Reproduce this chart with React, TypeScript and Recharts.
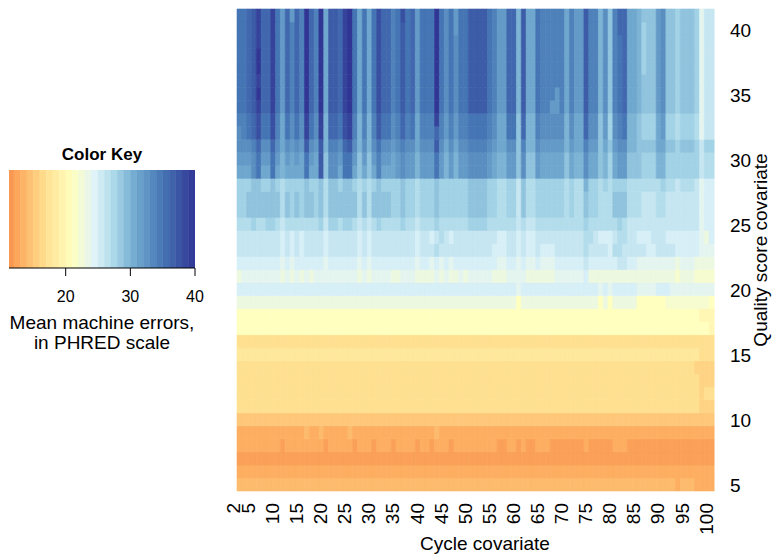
import React from 'react';
import { BarChart, Bar, XAxis, YAxis, Cell, ComposedChart, ReferenceArea, Line } from 'recharts';

const FONT = '"Liberation Sans", Arial, Helvetica, sans-serif';

// categories
const cycles: number[] = Array.from({ length: 99 }, (_, i) => i + 2);
const qualities: number[] = [41, 40, 39, 38, 37, 36, 35, 34, 33, 32, 31, 30, 29, 28, 27, 26, 25, 24, 23, 22, 21, 20, 19, 18, 17, 16, 15, 14, 13, 12, 11, 10, 9, 8, 7, 6, 5];
const cycleTickLabels: number[] = [2, 5, 10, 15, 20, 25, 30, 35, 40, 45, 50, 55, 60, 65, 70, 75, 80, 85, 90, 95, 100];
const qualityTickLabels: number[] = [5, 10, 15, 20, 25, 30, 35, 40];
const keyTicks: number[] = [20, 30, 40];
const keyRange: number[] = [11.23, 40];

// mean machine error (PHRED) per cell, one string per quality row (41 at top), one char per cycle 2..100
// char -> value: parseInt(char, 36) + 11   ('0' = 11 ... '9' = 20, 'a' = 21 ... 't' = 40)
const heatRows: string[] = [
  'oopqsppsol plpntpntkq qpstokokor ppnoroploo otomolooqq qqonllppjq kkonnnnnkn llqnnjminp pkkjiiilmi ihiiihdff',
  'oopqsppsol pnpntpntkq qpstokokor ppnoqoploo otomolooqq qqonllppjq kkonnnnnkn llqnnjminp pkkjhiilmi ihiiihdff',
  'oopqsppsol pnpntpntkq qpstokokor ppnoqoploo otomomooqq qqonllppjq kkonnnnnkn llqnnjmino pkkjhiilmi ihiiihdff',
  'oopqtppsol pnpntpntkq qpstokokor ppnoqoploo otomomooqq qqonllppjq kkonnnnnkn llqnnjmino pkkjhiilmi ihiiihdff',
  'oopqtppsol pnpntpntkq qpstokokor ppnoqoploo otomomooqq qqonllppjq kkonnnnnkn llqnnjmino pkkjhiilmi ihiiihdff',
  'oopqsppsol pnpntpntkq qpstokokor ppnoqoploo otomomooqq qqonllppjq kkonnnnnkn llqnnjmino pkkjiiilmi ihiiihdff',
  'oopqtppsol pnpntpntkq qpstokokor ppnoqoploo otomomooqq qqonllppjq kkonnnlnkn llqnnjmino pkkjiiilmi ihiiihdff',
  'oopqsppsol pnpntpntkq qpstokokor ppnoqoploo otomomooqq qqonllppjq kkonnllnkn llqnnjmino pkkjiiilmi ihiiihdff',
  'nnoproornk omomsomsjp porsnjnjnq oomnpnoknn nsnlnlnnoo oonmkkooip jjnmmmmmjm kkpmmilhmn ojjihhhklh hghhhgdff',
  'mnoproornk omomsomsjp porsnjnjnq oomnpnoknn npnlnlnnoo oonmkkooip jjnmmmmmjm kkpmmilhmn ojjihhhklh hghhhgdff',
  'mmmnpmmpmk mlmlqmlqjn nmpqmjmjmo mmlmnmmkmm mqmkmkmmnn nnmlkkmmin jjmllllljl kknllikilm mjjiiiikki ihiiihfhh',
  'lllmollolj lklkolkqim mloolililn llklmlljll loljljllmm mmlkjjllim iilkkkkkik jjmkkijhkl liiihhhjjh hhhhhhfgg',
  'kkkmokkokj kkkkokkqim mkookikikn kkklmlljll loljljllmm mmlkjjllim iilkkkkkik jjmkkijhkl liiihhhjjh hhhhhhfgg',
  'hhhiihhihg hhhhihhigi ihiihghghi hhhhihhghh hihhhhhhii iihhgghhfi gghhhhhhgh ggjhhghghh hggggggghg gfgggfdee',
  'hhiiiiiiig ihihiihigi iiiiigigii iihhihhghh hihhhhhhii iihhgghhfi gghhhhhhgh ggihhgggii igggfffggf ffffffdee',
  'hhiiiiiiig ihihiihigi iiiiigigii iihhihhghh hihhhhhhii iihhgghhfi gghhhhhhgh ggihhgggii igggfffggf ffffffdee',
  'ggghgghhgf ggggggghfh hghhgfgfgh gggghggfgg ghgggggghh hhggggggfg ffgggggggg gghggggggh gfffffffff ffffffdee',
  'fffffffffe fefeffffef fffffefeff fffffffeff efgfefffff ffffeeffef eeffffffff ffggfeeefg gffeeefffe eeeeeedce',
  'fffffffffe fefeffffef fffffefeff fffffffeff fgffffffff fffeeeffef eefeeeffff ffgffffegg fffffeefff feeeeeddd',
  'eeeeeeeeed edeeeeeede eeeeededee eeeeeeedee dededeeeee eeeeddeede ddedddeeee eefeeeeeef feeddddddd dcdddcccc',
  'cddddddddc dcdcdcdddd dddddcdcdd ddccdddccc cdcdccdcdd dddcccdddd ccccccdddd ddeccccccc cccccccccc cbcccbbbb',
  'eeeeeeeeee eeeeeeeeee eeeeeeeeee eeeeeeeeee eeeeeeeeee eeeeeeeede eeeeeeeeee eeeeededee eeeddddeee ddddddddd',
  'cccccccccc cccccccccc cccccccccc cccccccccc cccccccccc ccccccccac cccccccccc cccccacacc cccaaaaaab bbbbbbbba',
  'aaaaaaaaaa aaaaaaaaaa aaaaaaaaaa aaaaaaaaaa aaaaaaaaaa aaaaaaaaaa aaaaaaaaaa aaaaaaaaaa aaaaaaaaaa aaaaaa999',
  'aaaaaaaaaa aaaaaaaaaa aaaaaaaaaa aaaaaaaaaa aaaaaaaaaa aaaaaaaaaa aaaaaaaaaa aaaaaaaaaa aaaaaaaaaa aaaaaaaa9',
  '6666666666 6666666666 6666666666 6666666666 6666666666 6666666666 6666666666 6666666666 6666666666 666666666',
  '7777777777 7777777777 7777777777 7777777777 7777777777 7777777777 7777777777 7777777777 7777777777 777777666',
  '6666666666 6666666666 6666666666 6666666666 6666666666 6666666666 6666666666 6666666666 6666666666 666665555',
  '6666666666 6666666666 6666666666 6666666666 6666666666 6666666666 6666666666 6666666666 6666666666 666666555',
  '6666666666 6666666666 6666666666 6666666666 6666666666 6666666666 6666666666 6666666666 6666666666 666666566',
  '6666666666 6666666666 6666666666 6666666666 6666666666 6666666666 6666666666 6666666666 6666666666 666666555',
  '4444444444 4444444444 4444444444 4444444444 4444444444 4444444444 4444444444 4444444444 4444444444 444444444',
  '2222222222 2222322322 2223222222 2222222222 2322222222 2222222222 2222222222 2222222222 2222222222 222222222',
  '2222222221 2222222212 2222122212 2212222122 1222122222 2222112212 1122211111 1121111122 2111111111 111111111',
  '1111111111 1111111111 1111111111 1111111111 1111111111 1111111111 1111111111 1111111111 1111111111 111111111',
  '2222222222 2222222222 2222222222 2222222222 2222222222 2222222222 2222222222 2222222222 2222222222 222222222',
  '3333333333 3333333333 3333333333 3333333333 3333333333 3333333333 3333333333 3333333333 3333333333 323332222',
];

// palette stops (value, colour)
const colorStops: [number, string][] = [
  [11, '#F7914E'],
  [13, '#FDAE61'],
  [17, '#FEE090'],
  [21, '#FFFFBF'],
  [24.5, '#E0F3F8'],
  [27.5, '#ABD9E9'],
  [30.5, '#74ADD1'],
  [35, '#4575B4'],
  [40, '#313695'],
];

function hexToRgb(h: string): number[] {
  return [parseInt(h.slice(1, 3), 16), parseInt(h.slice(3, 5), 16), parseInt(h.slice(5, 7), 16)];
}

function colorFor(v: number): string {
  if (v <= colorStops[0][0]) return colorStops[0][1];
  for (let i = 1; i < colorStops.length; i++) {
    const [v1, c1] = colorStops[i];
    const [v0, c0] = colorStops[i - 1];
    if (v <= v1) {
      const t = (v - v0) / (v1 - v0);
      const a = hexToRgb(c0);
      const b = hexToRgb(c1);
      const m = a.map((x, j) => Math.round(x + (b[j] - x) * t));
      return `rgb(${m[0]},${m[1]},${m[2]})`;
    }
  }
  return colorStops[colorStops.length - 1][1];
}

const grid: number[][] = heatRows.map((r) =>
  r.replace(/ /g, '').split('').map((c) => parseInt(c, 36) + 11)
);

const heatData = cycles.map((c) => {
  const d: Record<string, number> = { cycle: c };
  qualities.forEach((q) => {
    d['q' + q] = 1;
  });
  return d;
});

const qualitiesBottomUp = [...qualities].reverse();
const qualityTicks = qualityTickLabels.map((q) => q - 5 + 0.5);

// colour key bands
const keyBands = [] as { lo: number; hi: number; color: string }[];
for (let k = 12; k <= 40; k++) {
  keyBands.push({ lo: Math.max(k - 1, keyRange[0]), hi: k, color: colorFor(k - 0.5) });
}
const keyData = [{ x: keyRange[0], y: 0 }, { x: keyRange[1], y: 0 }];

const W = 773;
const H = 554;
const PLOT_LEFT = 237;
const PLOT_RIGHT = 714;
const PLOT_TOP = 9;
const PLOT_BOTTOM = 491;

const CycleTick = (props: any) => {
  const { x, payload } = props;
  const v = Number(payload.value);
  if (!cycleTickLabels.includes(v)) return <g />;
  const bx = x + 1;
  const by = PLOT_BOTTOM + 12;
  return (
    <text x={bx} y={by} transform={`rotate(-90 ${bx} ${by})`} textAnchor="end" fontSize={19} fontFamily={FONT} fill="#000">
      {v}
    </text>
  );
};

const QualityTick = (props: any) => {
  const { y, payload } = props;
  const label = Math.round(Number(payload.value) + 4.5);
  return (
    <text x={PLOT_RIGHT + 16} y={y + 8} textAnchor="start" fontSize={19} fontFamily={FONT} fill="#000">
      {label}
    </text>
  );
};

export default function App() {
  return (
    <div style={{ position: 'absolute', left: 0, top: 0, width: W, height: H, overflow: 'hidden', fontFamily: FONT, background: '#fff' }}>
      <div style={{ position: 'absolute', left: 0, top: 0 }}>
        <BarChart
          width={W}
          height={H}
          data={heatData}
          margin={{ top: PLOT_TOP, right: 9, bottom: 13, left: PLOT_LEFT }}
          barCategoryGap={0}
          barGap={0}
        >
          <XAxis dataKey="cycle" type="category" interval={0} height={50} tickLine={false} axisLine={false} tick={<CycleTick />} />
          <YAxis
            orientation="right"
            type="number"
            domain={[0, 37]}
            ticks={qualityTicks}
            interval={0}
            width={50}
            tickLine={false}
            axisLine={false}
            tick={<QualityTick />}
          />
          {qualitiesBottomUp.map((q) => {
            const ri = qualities.indexOf(q);
            return (
              <Bar key={q} dataKey={'q' + q} stackId="h" isAnimationActive={false}>
                {cycles.map((c, ci) => {
                  const col = colorFor(grid[ri][ci]);
                  return <Cell key={c} fill={col} stroke={col} strokeWidth={0.6} />;
                })}
              </Bar>
            );
          })}
        </BarChart>
      </div>

      <div style={{ position: 'absolute', left: 0, top: 160 }}>
        <ComposedChart width={215} height={150} data={keyData} margin={{ top: 10, right: 20, bottom: 12, left: 9 }}>
          <XAxis
            dataKey="x"
            type="number"
            domain={keyRange}
            ticks={keyTicks}
            allowDataOverflow
            height={30}
            tickSize={8}
            tickMargin={15}
            axisLine={{ stroke: '#000' }}
            tickLine={{ stroke: '#000' }}
            tick={{ fontSize: 16, fill: '#000', fontFamily: FONT }}
          />
          <YAxis hide type="number" domain={[0, 1]} />
          {keyBands.map((b) => (
            <ReferenceArea
              key={b.hi}
              x1={b.lo}
              x2={b.hi}
              y1={0}
              y2={1}
              fill={b.color}
              fillOpacity={1}
              stroke={b.color}
              strokeWidth={0.5}
              ifOverflow="hidden"
            />
          ))}
          <Line dataKey="y" stroke="none" dot={false} isAnimationActive={false} />
        </ComposedChart>
      </div>

      <svg width={W} height={H} style={{ position: 'absolute', left: 0, top: 0, pointerEvents: 'none' }}>
        <text x={102} y={160} textAnchor="middle" fontSize={17} fontWeight="bold" fontFamily={FONT} fill="#000">
          Color Key
        </text>
        <text x={102} y={329} textAnchor="middle" fontSize={19} fontFamily={FONT} fill="#000">
          Mean machine errors,
        </text>
        <text x={102} y={349} textAnchor="middle" fontSize={19} fontFamily={FONT} fill="#000">
          in PHRED scale
        </text>
        <text x={485} y={550} textAnchor="middle" fontSize={19} fontFamily={FONT} fill="#000">
          Cycle covariate
        </text>
        <text x={767} y={250} transform="rotate(-90 767 250)" textAnchor="middle" fontSize={19} fontFamily={FONT} fill="#000">
          Quality score covariate
        </text>
      </svg>
    </div>
  );
}
